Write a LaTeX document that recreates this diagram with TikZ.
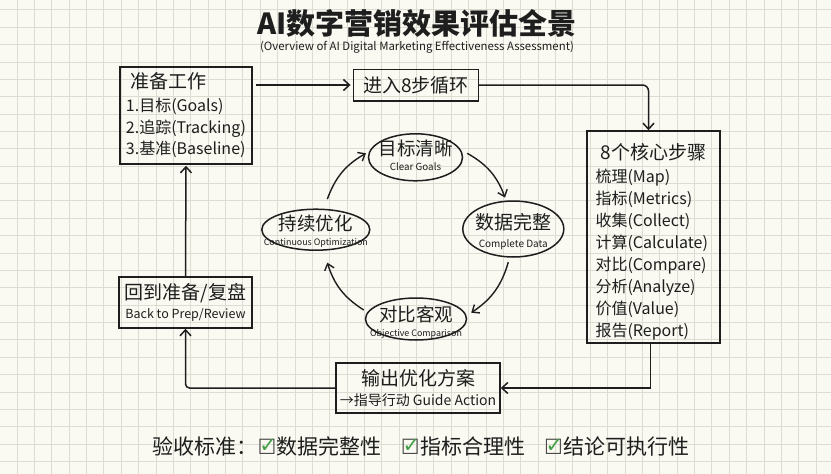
\documentclass[tikz,border=0pt]{standalone}
\usepackage{fontspec}
\setmainfont{Noto Sans CJK SC}
\newfontfamily\djv{DejaVu Sans}
\usetikzlibrary{arrows.meta,shapes.geometric,calc}
\definecolor{paper}{HTML}{FAFAF2}
\definecolor{gridc}{HTML}{DCDCD3}
\definecolor{ink}{HTML}{1E1E1E}
\definecolor{chkg}{HTML}{43A047}
\newcommand{\hd}{\fontsize{19}{22}\selectfont}
\newcommand{\chk}{{\djv\rlap{\textcolor{ink!80}{☐}}\hspace{0.08em}\raisebox{0.08em}{\textcolor{chkg}{✓}}}}
\tikzset{
  box/.style={draw=ink, line width=1.5pt, inner sep=3pt},
  ell/.style={draw=ink, ellipse, line width=1.5pt, inner sep=0pt},
  elltxt/.style={align=center, text=ink, inner sep=0pt},
  arr/.style={draw=ink, line width=1.5pt, -{Straight Barb[length=6pt,width=11pt]}},
  cyc/.style={draw=ink, line width=1.4pt, -{Straight Barb[length=6pt,width=10pt]}, bend left=20},
}
\begin{document}
\begin{tikzpicture}[x=1pt,y=-1pt, text=ink]
\fill[paper] (0,0) rectangle (831,474);
\useasboundingbox (0,0) rectangle (831,474);
\foreach \i in {1,...,48} \draw[gridc, line width=0.8pt] ({-0.37+17.37*\i},0) -- ++(0,474);
\foreach \j in {0,...,27} \draw[gridc, line width=0.8pt] (0,{9.8+17.37*\j}) -- ++(831,0);

% title
\node[font=\fontsize{29}{32}\selectfont\bfseries] (title) at (417,23) {AI数字营销效果评估全景};
\node[font=\fontsize{11.4}{13}\selectfont] (sub) at (417,47) {(Overview of AI Digital Marketing Effectiveness Assessment)};

% boxes
\node[box, minimum width=132, minimum height=97, align=left, font=\fontsize{16}{21.5}\selectfont] (prep) at (186,115.5)
  {{\hd\hspace*{5pt}准备工作}\\[1.5pt]1.目标(Goals)\\2.追踪(Tracking)\\3.基准(Baseline)};
\node[box, minimum width=125, minimum height=31.5, font=\hd] (loop) at (415.8,85) {进入8步循环};
\node[box, minimum width=133, minimum height=212, text width=116, align=left, font=\fontsize{16}{22}\selectfont] (steps) at (653.5,237)
  {\rule{0pt}{25pt}\hfill{\hd 8个核心步骤}\hfill\null\\[1pt]梳理(Map)\\指标(Metrics)\\收集(Collect)\\计算(Calculate)\\对比(Compare)\\分析(Analyze)\\价值(Value)\\报告(Report)};
\node[box, minimum width=164, minimum height=50, align=center, font=\fontsize{14}{20.5}\selectfont] (out) at (418,388)
  {{\hd 输出优化方案}\\→指导行动 Guide Action};
\node[box, minimum width=133, minimum height=51, align=center, font=\fontsize{12.5}{19.5}\selectfont] (back) at (185.5,302.5)
  {{\hd 回到准备/复盘}\\Back to Prep/Review};

% ellipses
\node[ell, minimum width=94, minimum height=47] (goal) at (415.5,157.3) {};
\node[elltxt, font=\fontsize{9.8}{15}\selectfont] (goalt) at (415.5,155.5) {{\fontsize{18.5}{15}\selectfont 目标清晰}\\Clear Goals};
\node[ell, minimum width=108, minimum height=41] (cont) at (315.8,229.7) {};
\node[elltxt, font=\fontsize{8.9}{15}\selectfont] (contt) at (315.8,231) {{\fontsize{18.5}{15}\selectfont 持续优化}\\Continuous Optimization};
\node[ell, minimum width=101, minimum height=56] (data) at (513.3,229) {};
\node[elltxt, font=\fontsize{10}{18}\selectfont] (datat) at (513.3,232) {{\fontsize{19}{15}\selectfont 数据完整}\\Complete Data};
\node[ell, minimum width=101, minimum height=42] (cmp) at (416,319) {};
\node[elltxt, font=\fontsize{8.9}{15}\selectfont] (cmpt) at (416,322) {{\fontsize{18.5}{15}\selectfont 对比客观}\\Objective Comparison};

% connectors
\draw[arr, shorten <=3pt, shorten >=2pt] (prep.east |- loop.west) -- (loop.west);
\draw[arr, rounded corners=6pt] (loop.east) -| ([xshift=-5pt]steps.north);
\draw[arr] ([xshift=-3pt]steps.south) |- (out.east);
\draw[arr, rounded corners=4pt] (out.west) -| (back.south);
\draw[arr, shorten >=1pt] (back.north) -- (prep.south);

\draw[cyc] ([shift={(11.5,-9.3)}]cont.north) to ([shift={(-1.8,-4)}]goal.west);
\draw[cyc] ([shift={(4,-4)}]goal.east) to ([shift={(-8.3,-2.7)}]data.north);
\draw[cyc] ([shift={(-5,4.4)}]data.south) to ([shift={(4,-6.3)}]cmp.east);
\draw[cyc] ([shift={(-1,-9)}]cmp.west) to ([shift={(11.5,11.7)}]cont.south);

% acceptance line
\node[font=\fontsize{21}{24}\selectfont] (accept) at (421,446) {验收标准：\chk 数据完整性\hspace{0.9em}\chk 指标合理性\hspace{0.9em}\chk 结论可执行性};
\end{tikzpicture}
\end{document}
